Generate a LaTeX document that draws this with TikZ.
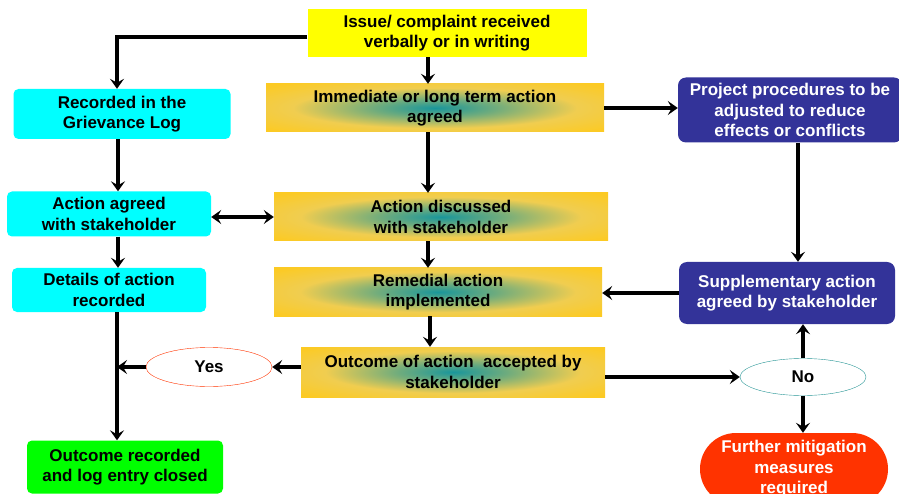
\documentclass[tikz,border=0pt]{standalone}
\usepackage{fontspec}
\setmainfont{Liberation Sans}
\usetikzlibrary{arrows.meta,shapes.geometric,shapes.misc}

\definecolor{gold}{RGB}{252,202,35}
\definecolor{goldlight}{RGB}{240,205,80}
\definecolor{tealmid}{RGB}{25,150,155}
\definecolor{navy}{RGB}{51,51,153}
\definecolor{alarm}{RGB}{255,51,0}
\definecolor{tealline}{RGB}{40,150,150}
\definecolor{aqua}{RGB}{0,255,255}
\definecolor{lime}{RGB}{0,255,0}
\definecolor{lemon}{RGB}{255,255,0}

\pgfdeclareradialshading{glow}{\pgfpoint{0bp}{0bp}}{%
  color(0bp)=(tealmid);
  color(9bp)=(tealmid!60!goldlight);
  color(21bp)=(goldlight);
  color(34bp)=(gold);
  color(50bp)=(gold)}

\begin{document}
\begin{tikzpicture}[x=1pt, y=-1pt,
                    every node/.style={font=\fontsize{17}{20.5}\selectfont\bfseries, align=center, inner sep=0pt},
                    plain/.style={rectangle, fill=lemon},
                    glowbox/.style={rectangle, shading=glow},
                    logbox/.style={rectangle, rounded corners=5pt, fill=aqua},
                    bluebox/.style={rectangle, rounded corners=8pt, fill=navy, text=white},
                    choice/.style={ellipse, fill=white, thin},
                    flow/.style={line width=3.4pt, -{Stealth[length=10pt,width=14pt,inset=4pt]}}]

                    % Page frame
                    \useasboundingbox (0,0) rectangle (899,494);
                    \clip (0,0) rectangle (899,494);

                    % Middle column
                    \node[plain, minimum width=279pt, minimum height=48pt] (issue) at (447,33) {Issue/ complaint received\\verbally or in writing}; % Start
                    \node[glowbox, minimum width=338pt, minimum height=48pt] (imm) at (435,108) {Immediate or long term action\\agreed};
                    \node[glowbox, minimum width=334pt, minimum height=48pt] (disc) at (441,217) {Action discussed\\with stakeholder};
                    \node[glowbox, minimum width=328pt, minimum height=48pt] (rem) at (438,292) {Remedial action\\implemented};
                    \node[glowbox, minimum width=304pt, minimum height=50pt] (outc) at (453,372) {Outcome of action\ \ accepted by\\stakeholder};

                    % Left column
                    \node[logbox, minimum width=217pt, minimum height=50pt] (rec) at (122,114) {Recorded in the\\Grievance Log};
                    \node[logbox, minimum width=204pt, minimum height=45pt] (agr) at (109,214) {Action agreed\\with stakeholder};
                    \node[logbox, minimum width=194pt, minimum height=44pt] (det) at (109,290) {Details of action\\recorded};
                    \node[choice, draw=alarm, minimum width=126pt, minimum height=39pt] (yes) at (209,367) {Yes}; % Accepted
                    \node[logbox, fill=lime, minimum width=196pt, minimum height=53pt] (done) at (125,467) {Outcome recorded\\and log entry closed}; % End

                    % Right column
                    \node[bluebox, minimum width=224pt, minimum height=65pt] (proj) at (790,110) {Project procedures to be\\adjusted to reduce\\effects or conflicts};
                    \node[bluebox, minimum width=216pt, minimum height=62pt] (supp) at (787,293) {Supplementary action\\agreed by stakeholder};
                    \node[choice, draw=tealline, minimum width=126pt, minimum height=37pt] (no) at (803,377) {No}; % Not accepted
                    \node[rounded rectangle, fill=alarm, text=white, minimum width=188pt, minimum height=72pt] (further) at (794,469) {Further mitigation\\measures\\required};

                    \coordinate (join) at (117,367); % Yes meets the log line

                    % Define connectors
                    \draw[flow] ([yshift=-4pt]issue.west) -| ([xshift=-5pt]rec.north);
                    \draw[flow] ([xshift=-19pt]issue.south) -- ([xshift=-7pt]imm.north);
                    \draw[flow] (imm.east) -- (imm.east -| proj.west);
                    \draw[flow] ([xshift=-7pt]imm.south) -- ([xshift=-13pt]disc.north);
                    \draw[flow] ([xshift=-13pt]disc.south) -- ([xshift=-10pt]rem.north);
                    \draw[flow] ([xshift=-8pt]rem.south) -- ([xshift=-23pt]outc.north);
                    \draw[flow] ([xshift=-4pt]rec.south) -- ([xshift=9pt]agr.north);
                    \draw[flow, {Stealth[length=10pt,width=14pt,inset=4pt]}-{Stealth[length=10pt,width=14pt,inset=4pt]}] (agr.east |- disc.west) -- (disc.west);
                    \draw[flow] ([xshift=9pt]agr.south) -- ([xshift=9pt]det.north);
                    \draw[line width=3.4pt] ([xshift=8pt]det.south) -- (join);
                    \draw[flow] (join) -- ([xshift=-8pt]done.north);
                    \draw[flow] (yes.west) -- (join);
                    \draw[flow] (outc.west |- yes.east) -- (yes.east);
                    \draw[flow] (outc.east |- no.west) -- (no.west);
                    \draw[flow] ([xshift=8pt]proj.south) -- ([xshift=11pt]supp.north);
                    \draw[flow] (supp.west) -- (supp.west -| rem.east);
                    \draw[flow] (no.north) -- (no.north |- supp.south);
                    \draw[flow] (no.south) -- (no.south |- further.north);
                \end{tikzpicture}
\end{document}
